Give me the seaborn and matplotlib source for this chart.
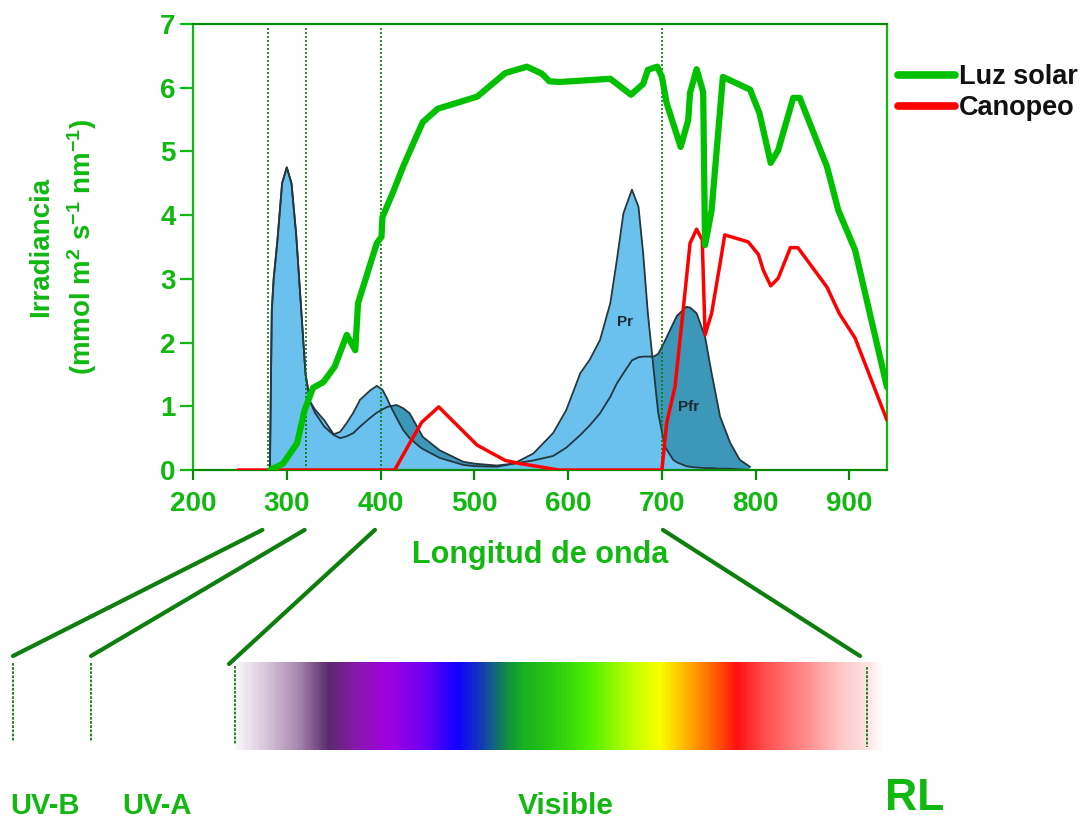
import matplotlib
matplotlib.use("Agg")
import matplotlib.pyplot as plt
import seaborn as sns
import numpy as np
from matplotlib.colors import LinearSegmentedColormap
from matplotlib.patches import ConnectionPatch
from matplotlib.lines import Line2D

# --- datos -------------------------------------------------------------
# luz solar (irradiancia vs longitud de onda)
sol_wl = [282, 296, 311, 319, 328, 339, 351, 364, 373, 376, 396, 401, 402, 413,
          424, 435, 445, 461, 503, 533, 556, 572, 580, 591, 645, 667, 680, 685,
          695, 700, 705, 720, 728, 730, 737, 744, 746, 753, 765, 794, 804, 816,
          824, 840, 847, 876, 888, 906, 940]
sol_irr = [0, 0.1, 0.42, 0.94, 1.29, 1.38, 1.62, 2.12, 1.88, 2.62, 3.56, 3.66, 3.97,
           4.35, 4.76, 5.13, 5.46, 5.67, 5.86, 6.23, 6.33, 6.22, 6.1, 6.09, 6.14,
           5.89, 6.06, 6.28, 6.33, 6.17, 5.76, 5.07, 5.49, 5.92, 6.29, 5.93, 3.53,
           4.08, 6.17, 5.97, 5.6, 4.82, 5.02, 5.84, 5.84, 4.76, 4.08, 3.45, 1.3]

# bajo canopeo
can_wl = [248, 415, 431, 444, 462, 503, 533, 549, 570, 590, 700, 705, 714, 723,
          730, 737, 743, 746, 753, 762, 767, 792, 803, 808, 816, 824, 837, 845,
          876, 889, 906, 940]
can_irr = [0, 0, 0.42, 0.75, 0.99, 0.39, 0.15, 0.1, 0.05, 0, 0, 0.73, 1.31, 2.56,
           3.56, 3.78, 3.61, 2.12, 2.46, 3.24, 3.69, 3.58, 3.38, 3.14, 2.89, 3.01,
           3.49, 3.49, 2.87, 2.46, 2.07, 0.78]

# espectros de absorcion del fitocromo (Pr y Pfr), escala relativa
phy_wl = [282, 284, 286, 290, 295, 300, 305, 310, 315, 320, 325, 330, 340, 350,
          357, 364, 371, 378, 389, 396, 402, 407, 410, 417, 424, 431, 442, 445,
          463, 488, 500, 524, 542, 563, 584, 598, 613, 623, 634, 645, 652, 659,
          668, 675, 680, 685, 691, 696, 703, 712, 716, 726, 730, 737, 746, 753,
          762, 773, 783, 794]
pr = [0, 2.5, 3.0, 3.6, 4.5, 4.75, 4.5, 3.7, 2.6, 1.5, 1.07, 0.95, 0.78, 0.56,
      0.6, 0.74, 0.9, 1.1, 1.25, 1.32, 1.26, 1.12, 1.02, 0.82, 0.63, 0.5, 0.36, 0.33,
      0.19, 0.08, 0.06, 0.05, 0.1, 0.26, 0.58, 0.94, 1.52, 1.73, 2.04, 2.62, 3.3, 4.03,
      4.4, 4.13, 3.4, 2.46, 1.6, 0.9, 0.37, 0.16, 0.12, 0.06, 0.05, 0.04, 0.03, 0.03,
      0.02, 0.02, 0.01, 0]
pfr = [0, 2.5, 3.0, 3.6, 4.5, 4.75, 4.5, 3.7, 2.6, 1.5, 1.07, 0.9, 0.68, 0.55,
       0.5, 0.53, 0.58, 0.68, 0.82, 0.9, 0.95, 0.99, 1.0, 1.02, 0.97, 0.89, 0.6, 0.52,
       0.31, 0.13, 0.1, 0.07, 0.1, 0.15, 0.22, 0.35, 0.55, 0.7, 0.89, 1.15, 1.36, 1.52,
       1.72, 1.77, 1.78, 1.78, 1.78, 1.82, 2.02, 2.3, 2.42, 2.56, 2.55, 2.46, 2.09, 1.52,
       0.84, 0.42, 0.16, 0.05]

limites = [280, 320, 400, 700]
x_ticks = [200, 300, 400, 500, 600, 700, 800, 900]
y_ticks = [0, 1, 2, 3, 4, 5, 6, 7]
bandas = ["UV-B", "UV-A", "Visible", "RL"]

# --- estilo ------------------------------------------------------------
sns.set_style("white")
plt.rcParams["font.family"] = ["Liberation Sans", "DejaVu Sans"]
plt.rcParams["font.weight"] = "bold"
plt.rcParams["axes.labelweight"] = "bold"
plt.rcParams["mathtext.fontset"] = "custom"
plt.rcParams["mathtext.rm"] = "Liberation Sans:bold"
plt.rcParams["mathtext.it"] = "Liberation Sans:bold"
plt.rcParams["mathtext.bf"] = "Liberation Sans:bold"

VERDE = "#00c000"
VERDE_TXT = "#10b810"
VERDE_OSC = "#0a7a0a"
W, H = 1088, 819

fig = plt.figure(figsize=(W / 100, H / 100), dpi=100)
ax = fig.add_axes([193 / W, 1 - 470 / H, 694 / W, 446 / H])

# fitocromo
ax.fill_between(phy_wl, 0, pr, color="#6bc1ee", lw=0, zorder=1)
ax.fill_between(phy_wl, pr, pfr, where=np.array(pfr) > np.array(pr),
                interpolate=True, color="#3d97b9", lw=0, zorder=1)
ax.plot(phy_wl, pr, color="#24363e", lw=1.3, zorder=2)
ax.plot(phy_wl, pfr, color="#24363e", lw=1.3, zorder=2)
ax.text(661, 2.33, "Pr", fontsize=11, color="#1a2a30", ha="center", va="center", zorder=2)
ax.text(728, 0.99, "Pfr", fontsize=11, color="#1a2a30", ha="center", va="center", zorder=2)

ax.vlines(limites, 0, 6.95, colors=VERDE_OSC, linestyles=(0, (1.2, 1.2)), lw=1.2, zorder=3)

sns.lineplot(x=sol_wl, y=sol_irr, ax=ax, color=VERDE, lw=4.5, label="Luz solar",
             estimator=None, sort=False, zorder=5)
sns.lineplot(x=can_wl, y=can_irr, ax=ax, color="#ff0000", lw=2.5, label="Canopeo",
             estimator=None, sort=False, zorder=4)

ax.set_xlim(200, 940)
ax.set_ylim(0, 7)
ax.set_xticks(x_ticks)
ax.set_yticks(y_ticks)
ax.tick_params(axis="x", length=7, width=1.6, color="#088a08", labelsize=20,
               labelcolor=VERDE_TXT, pad=8, direction="out", bottom=True)
ax.tick_params(axis="y", length=9.5, width=1.6, color=VERDE_TXT, labelsize=20,
               labelcolor=VERDE_TXT, pad=3, direction="out", left=True)
for s in ["top", "bottom"]:
    ax.spines[s].set_color("#088a08")
for s in ["left", "right"]:
    ax.spines[s].set_color("#10b810")
for s in ax.spines.values():
    s.set_linewidth(1.6)

ax.set_xlabel("Longitud de onda", fontsize=22, color=VERDE_TXT)
ax.xaxis.set_label_coords(0.5, -0.158)
ax.set_ylabel("Irradiancia\n(mmol m$^{2}$ s$^{-1}$ nm$^{-1}$)", fontsize=20,
              color=VERDE_TXT, linespacing=1.4)
ax.yaxis.set_label_coords(-0.136, 0.5)

leg = ax.legend(loc="upper left", bbox_to_anchor=(898 / W, 1 - 64 / H),
                bbox_transform=fig.transFigure, frameon=False, fontsize=19.5,
                handlelength=2.1, handletextpad=0.15, labelspacing=0.2,
                borderpad=0, borderaxespad=0)
for ln in leg.get_lines():
    ln.set_linewidth(5.5)
    ln.set_solid_capstyle("round")
for t in leg.get_texts():
    t.set_color("#111111")

# --- espectro visible --------------------------------------------------
stops_px = [233, 263, 297, 327, 357, 387, 423, 457, 483, 507, 523, 560, 590,
            633, 660, 683, 710, 738, 767, 810, 843, 867, 885]
stops_col = ["#fbf9fc", "#d8c8dc", "#a888b0", "#5a2a6a", "#8a18b0", "#a000e0",
             "#7000f0", "#1000ff", "#1540b0", "#109040", "#18b020", "#30d010",
             "#50f000", "#c0ff00", "#f8ff00", "#ffc000", "#ff7000", "#ff1010",
             "#ff5050", "#ff9090", "#ffc8c8", "#fde0e0", "#ffffff"]
pos = [(p - 233) / (885 - 233) for p in stops_px]
cmap = LinearSegmentedColormap.from_list("espectro", list(zip(pos, stops_col)))
bax = fig.add_axes([233 / W, 1 - 750 / H, (885 - 233) / W, 88 / H])
bax.imshow(np.linspace(0, 1, 600)[None, :], aspect="auto", cmap=cmap)
bax.axis("off")

# conectores desde el eje hacia las bandas
con_wl = [274, 319, 394, 701]
con_end = [(13, 656), (91, 656), (229, 664), (860, 656)]
for wl, (ex, ey) in zip(con_wl, con_end):
    con = ConnectionPatch(xyA=(wl, -0.94), coordsA=ax.transData,
                          xyB=(ex / W, 1 - ey / H), coordsB=fig.transFigure,
                          color="#0e7e0e", lw=3, capstyle="round")
    fig.add_artist(con)

for px, y0, y1 in [(13, 663, 742), (91, 663, 742), (235, 666, 744), (867, 667, 747)]:
    fig.add_artist(Line2D([px / W, px / W], [1 - y0 / H, 1 - y1 / H],
                          transform=fig.transFigure, color="#0e7e0e", lw=1.3,
                          ls=(0, (1.5, 0.8)), zorder=10))

for lab, cx, fs in zip(bandas, [45, 157, 566, 915], [21, 21, 21.5, 32]):
    fig.text(cx / W, 1 - 819.5 / H, lab, color=VERDE_TXT, fontsize=fs,
             ha="center", va="bottom")

fig.savefig("out.png", dpi=100)
